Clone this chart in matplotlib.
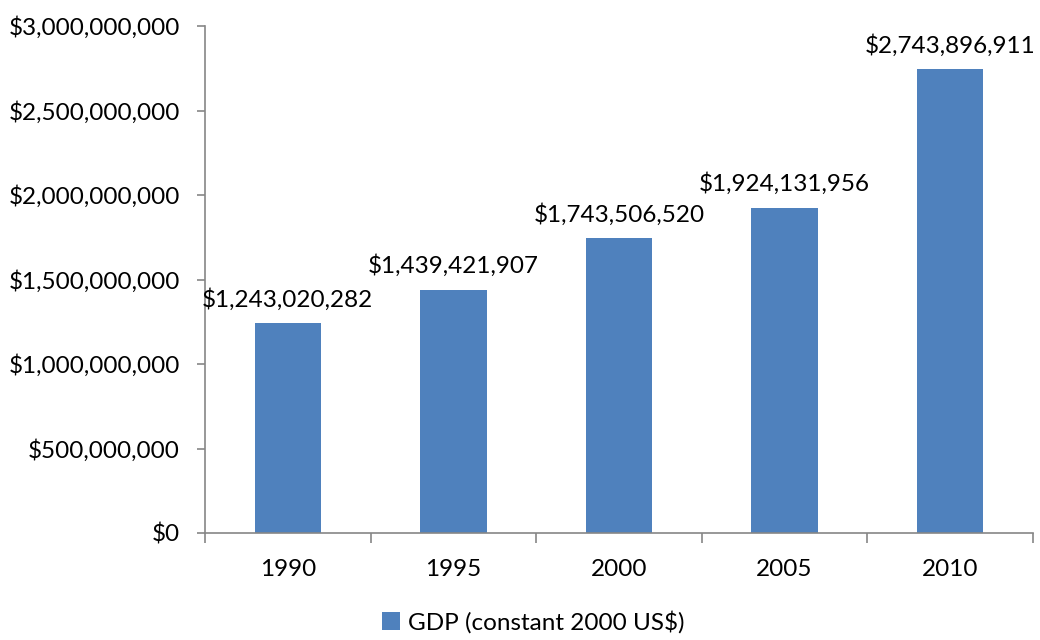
import matplotlib
matplotlib.use("Agg")
import matplotlib.pyplot as plt
from matplotlib.ticker import FuncFormatter, MultipleLocator
from matplotlib.patches import Patch

years = ["1990", "1995", "2000", "2005", "2010"]
gdp = [1243020282, 1439421907, 1743506520, 1924131956, 2743896911]
series_name = "GDP (constant 2000 US$)"

plt.rcParams['font.family'] = ['Lato', 'DejaVu Sans']

W, H = 1040, 640
fig = plt.figure(figsize=(W / 100, H / 100), dpi=100)
left, right, top, bottom = 205, 1033, 26, 533
ax = fig.add_axes([left / W, 1 - bottom / H, (right - left) / W, (bottom - top) / H])

color = "#4F81BD"
fs = 17.5
x = list(range(len(years)))
bars = ax.bar(x, gdp, width=0.4, color=color, zorder=2)

ax.set_xlim(-0.5, len(years) - 0.5)
ax.set_ylim(0, 3e9)
ax.yaxis.set_major_locator(MultipleLocator(5e8))
ax.yaxis.set_major_formatter(FuncFormatter(lambda v, p: "${:,.0f}".format(v)))

ax.set_xticks(x)
ax.set_xticklabels(years)
ax.set_xticks([i - 0.5 for i in range(len(years) + 1)], minor=True)
ax.tick_params(axis='x', which='major', length=0, pad=19, labelsize=fs)
ax.tick_params(axis='x', which='minor', length=7, color="#868686", width=1.2, direction='out')
ax.tick_params(axis='y', length=6, color="#868686", width=1.2, pad=12, labelsize=fs)

for s in ['top', 'right']:
    ax.spines[s].set_visible(False)
for s in ['left', 'bottom']:
    ax.spines[s].set_color("#868686")
    ax.spines[s].set_linewidth(1.2)

for xi, v in zip(x, gdp):
    ax.annotate("${:,.0f}".format(v), (xi, v), xytext=(0, 9), textcoords='offset points',
                ha='center', va='bottom', fontsize=fs)

handle = Patch(facecolor=color)
fig.legend([handle], [series_name], loc='center', bbox_to_anchor=(533 / W, 1 - 622 / H),
           frameon=False, fontsize=fs, handlelength=0.75, handleheight=0.75, handletextpad=0.3)

fig.savefig("out.png", dpi=100)
